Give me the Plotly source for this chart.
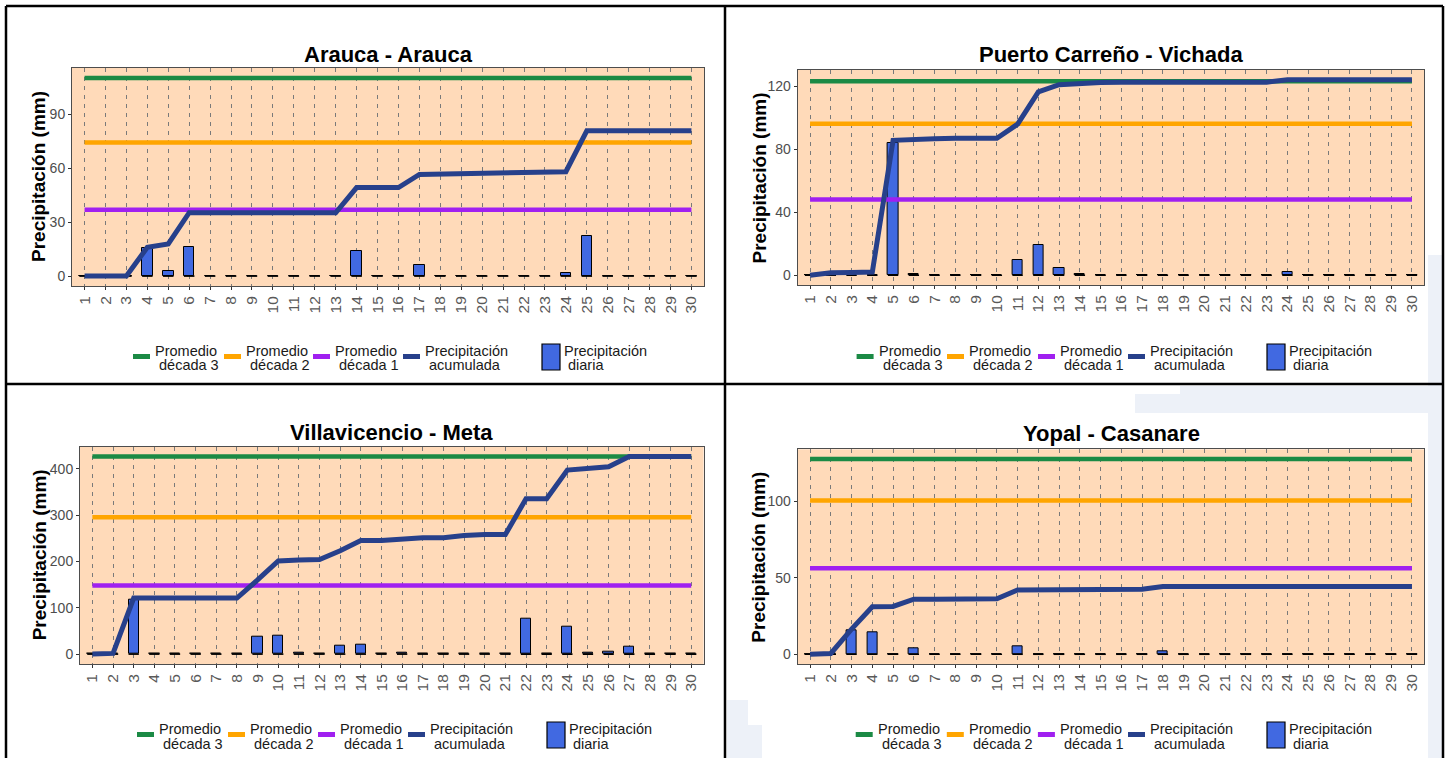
import plotly.graph_objects as go

W, H = 1447, 758

dias = list(range(1, 31))
etiquetas_dias = [str(d) for d in dias]

# ---- Arauca - Arauca ----
arauca_diaria = [0, 0, 0, 15.7, 2.6, 16.0, 0, 0, 0, 0, 0, 0, 0, 14.2, 0,
                 0, 6.3, 0, 0, 0, 0, 0, 0, 1.5, 22.5, 0, 0, 0, 0, 0]
arauca_acum = [0, 0, 0, 16.0, 17.9, 35.2, 35.2, 35.2, 35.2, 35.2, 35.2, 35.2, 35.2, 49.2, 49.2,
               49.2, 56.5, 56.7, 56.8, 57.2, 57.2, 57.2, 57.2, 58.0, 80.7, 80.7, 80.7, 80.7, 80.7, 80.7]
arauca_promedios = [36.9, 74.2, 110.1]          # década 1, 2, 3

# ---- Puerto Carreño - Vichada ----
carreno_diaria = [0, 1.5, 0.3, 0.2, 84.2, 1.0, 0, 0, 0, 0, 9.6, 19.5, 4.4, 1.0, 0,
                  0, 0, 0, 0, 0, 0, 0, 0, 2.3, 0, 0, 0, 0, 0, 0]
carreno_acum = [0, 1.5, 1.8, 2.0, 85.7, 86.5, 86.8, 87.0, 87.0, 87.0, 96.0, 116.5, 121.1, 122.1, 122.5,
                122.6, 122.6, 122.6, 122.6, 122.6, 122.6, 122.6, 122.7, 124.2, 124.2, 124.2, 124.2, 124.2, 124.2, 124.2]
carreno_promedios = [48.1, 96.3, 123.2]

# ---- Villavicencio - Meta ----
villavo_diaria = [0, 1.5, 117.5, 0, 0, 0, 0, 0, 37.5, 40.0, 2.5, 0.5, 18.0, 20.0, 0,
                  3.0, 0, 0, 2.0, 0, 0, 77.0, 0, 60.0, 3.0, 5.8, 17.0, 0, 0, 0]
villavo_acum = [0, 1.5, 121, 121, 121, 121, 121, 121, 160, 201, 203, 204, 223, 245, 245,
                249, 251, 251, 256, 258, 258, 335, 335, 397, 401, 404, 426, 426, 426, 426]
villavo_promedios = [148, 295, 426]

# ---- Yopal - Casanare ----
yopal_diaria = [0, 0.5, 15.7, 14.4, 0, 3.9, 0, 0, 0, 0, 5.0, 0, 0, 0, 0,
                0, 0, 1.7, 0, 0, 0, 0, 0, 0, 0, 0, 0, 0, 0, 0]
yopal_acum = [0, 0.5, 16.4, 31.0, 31.2, 36.0, 36.0, 36.0, 36.0, 36.2, 42.0, 42.0, 42.0, 42.0, 42.0,
              42.0, 42.5, 44.3, 44.3, 44.3, 44.3, 44.3, 44.3, 44.3, 44.3, 44.3, 44.3, 44.3, 44.3, 44.3]
yopal_promedios = [56.1, 100.4, 127.5]

estaciones = [
    ("Arauca - Arauca", arauca_diaria, arauca_acum, arauca_promedios, 30),
    ("Puerto Carreño - Vichada", carreno_diaria, carreno_acum, carreno_promedios, 40),
    ("Villavicencio - Meta", villavo_diaria, villavo_acum, villavo_promedios, 100),
    ("Yopal - Casanare", yopal_diaria, yopal_acum, yopal_promedios, 50),
]

# legend labels (two lines each) in display order
etiq_lineas = [("Promedio", "década 3"), ("Promedio", "década 2"),
               ("Promedio", "década 1"), ("Precipitación", "acumulada")]
etiq_barras = ("Precipitación", "diaria")

# pixel layout of each panel: plot box (x0, x1, y0, y1), title y, y-title x,
# left edge of each legend label, legend centre y
cajas = [
    dict(box=(72, 704, 68, 286), ty=55, yt=38, ley=[154, 245, 334, 424, 563], ly=357.5),
    dict(box=(797.6, 1424.4, 70, 285), ty=55, yt=759, ley=[877.6, 968, 1059, 1149, 1288], ly=357.5),
    dict(box=(80, 703.6, 446.7, 664), ty=432, yt=39, ley=[158, 249, 339, 429, 568], ly=735.5),
    dict(box=(797.6, 1424.4, 449.3, 664), ty=433, yt=759, ley=[876.7, 967.8, 1058.9, 1149, 1288], ly=735.5),
]

C_DEC3 = "#1B8A45"
C_DEC2 = "#FFA500"
C_DEC1 = "#A020F0"
C_ACUM = "#27408B"
C_BARRA = "#4169E1"
FONDO = "#FFDAB9"
FUENTE = "Liberation Sans, Arial, sans-serif"
ANCHO_BARRA = 0.5

def px(x):
    return x / W

def py(y):
    return 1 - y / H

fig = go.Figure()
layout_ejes = {}
anotaciones = []
formas = []

def texto(t, x, y, size, color="#1A1A1A", **extra):
    anotaciones.append(dict(text=t, xref="paper", yref="paper", x=px(x), y=py(y),
                            xanchor=extra.pop("xanchor", "left"), yanchor="middle",
                            showarrow=False, font=dict(family=FUENTE, size=size, color=color),
                            **extra))

# faint background emblem showing at the right edge and around the last panel
marca = "#EDF1F8"
for xa0, xa1, ya0, ya1 in [(1428, 1442, 255, 758), (1180, 1442, 386, 413),
                           (1135, 1180, 394, 413), (727, 748, 700, 758), (748, 762, 725, 758)]:
    formas.append(dict(type="rect", xref="paper", yref="paper",
                       x0=px(xa0), x1=px(xa1), y0=py(ya1), y1=py(ya0),
                       fillcolor=marca, line=dict(width=0), layer="below"))

for i, ((titulo, diaria, acum, prom, paso), caja) in enumerate(zip(estaciones, cajas), start=1):
    xa = "x" if i == 1 else f"x{i}"
    ya = "y" if i == 1 else f"y{i}"

    # outline of every daily bar base (zero-rain days show as short black dashes)
    base_x, base_y = [], []
    for d in dias:
        base_x += [d - ANCHO_BARRA / 2, d + ANCHO_BARRA / 2, None]
        base_y += [0, 0, None]
    fig.add_trace(go.Scatter(x=base_x, y=base_y, mode="lines", xaxis=xa, yaxis=ya,
                             line=dict(color="black", width=1.6), showlegend=False,
                             hoverinfo="skip"))

    fig.add_trace(go.Bar(x=dias, y=diaria, width=ANCHO_BARRA, xaxis=xa, yaxis=ya,
                         name="Precipitación diaria", showlegend=False,
                         marker=dict(color=C_BARRA, line=dict(color="black", width=1))))

    series = [(prom[2], C_DEC3), (prom[1], C_DEC2), (prom[0], C_DEC1)]
    for (valor, color), etiq in zip(series, etiq_lineas):
        fig.add_trace(go.Scatter(x=dias, y=[valor] * len(dias), mode="lines",
                                 name=" ".join(etiq), xaxis=xa, yaxis=ya, showlegend=False,
                                 line=dict(color=color, width=4.5)))

    fig.add_trace(go.Scatter(x=dias, y=acum, mode="lines", name=" ".join(etiq_lineas[3]),
                             xaxis=xa, yaxis=ya, showlegend=False,
                             line=dict(color=C_ACUM, width=5)))

    x0, x1, y0, y1 = caja["box"]
    ymax = max(max(acum), max(prom), max(diaria))
    layout_ejes["xaxis" if i == 1 else f"xaxis{i}"] = dict(
        domain=[px(x0), px(x1)], anchor=ya, range=[0.4, 30.6],
        tickmode="array", tickvals=dias, ticktext=etiquetas_dias, tickangle=-90,
        tickfont=dict(family=FUENTE, size=15.5, color="#595959"),
        ticks="outside", ticklen=3, tickcolor="#333333",
        showgrid=True, gridcolor="#7A7A7A", gridwidth=1, griddash="4px,5px",
        zeroline=False, showline=True, mirror=True, linecolor="#4D4D4D", linewidth=1,
        fixedrange=True)
    layout_ejes["yaxis" if i == 1 else f"yaxis{i}"] = dict(
        domain=[py(y1), py(y0)], anchor=xa, range=[-0.05 * ymax, 1.05 * ymax],
        tick0=0, dtick=paso,
        tickfont=dict(family=FUENTE, size=14, color="#4D4D4D"),
        ticks="outside", ticklen=3, tickcolor="#333333",
        showgrid=False, zeroline=False, showline=True, mirror=True,
        linecolor="#4D4D4D", linewidth=1, fixedrange=True)

    texto(f"<b>{titulo}</b>", (x0 + x1) / 2, caja["ty"], 22, color="black", xanchor="center")
    texto("<b>Precipitación (mm)</b>", caja["yt"], (y0 + y1) / 2, 19, color="black",
          xanchor="center", textangle=-90)

    # legend row under the panel: short thick line keys + a box key for the bars
    ly = caja["ly"]
    colores = [C_DEC3, C_DEC2, C_DEC1, C_ACUM]
    for (l1, l2), color, xt in zip(etiq_lineas, colores, caja["ley"][:4]):
        formas.append(dict(type="line", xref="paper", yref="paper",
                           x0=px(xt - 21), x1=px(xt - 4), y0=py(ly - 1), y1=py(ly - 1),
                           line=dict(color=color, width=5)))
        texto(l1, xt - 1, ly - 6.5, 14.5)
        texto(l2, xt + 3, ly + 8, 14.5)
    xt = caja["ley"][4]
    formas.append(dict(type="rect", xref="paper", yref="paper",
                       x0=px(xt - 21), x1=px(xt - 3), y0=py(ly + 12.5), y1=py(ly - 13.5),
                       fillcolor=C_BARRA, line=dict(color="black", width=1.2)))
    texto(etiq_barras[0], xt - 1, ly - 6.5, 14.5)
    texto(etiq_barras[1], xt + 3, ly + 8, 14.5)

# black frame separating the four panels
marco = [((6, 6), (1443, 6)), ((6, 384), (1443, 384)), ((6, 6), (6, 758)),
         ((725, 6), (725, 758)), ((1443, 6), (1443, 758))]
for (xa0, ya0), (xa1, ya1) in marco:
    formas.append(dict(type="line", xref="paper", yref="paper",
                       x0=px(xa0), y0=py(ya0), x1=px(xa1), y1=py(ya1),
                       line=dict(color="black", width=2.5), layer="above"))

fig.update_layout(
    width=W, height=H,
    margin=dict(l=0, r=0, t=0, b=0, autoexpand=False),
    paper_bgcolor="white", plot_bgcolor=FONDO,
    barmode="overlay", bargap=0, showlegend=False,
    annotations=anotaciones, shapes=formas,
    **layout_ejes,
)

fig.write_html("out.html")
